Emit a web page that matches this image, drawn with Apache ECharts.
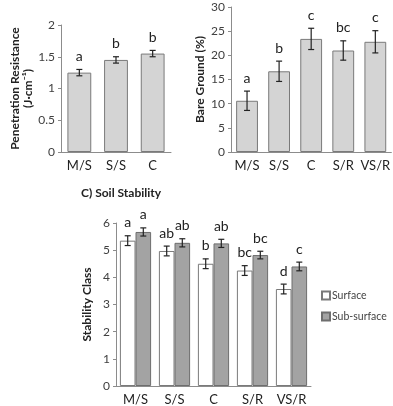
<!DOCTYPE html>
<html><head><meta charset="utf-8">
<script src="https://cdn.jsdelivr.net/npm/echarts@6/dist/echarts.min.js"></script>
<style>html,body{margin:0;padding:0;background:#fff}#c{width:393px;height:406px}</style>
</head><body><div id="c"></div>
<script>
// Panel A: Penetration resistance
const catsA = ['M/S','S/S','C'];
const valsA = [1.25, 1.45, 1.55];
const errA = [0.05, 0.05, 0.05];
const lettersA = ['a','b','b'];

// Panel B: Bare ground
const catsB = ['M/S','S/S','C','S/R','VS/R'];
const valsB = [10.6, 16.7, 23.4, 21.0, 22.8];
const errB = [2.0, 2.1, 2.2, 2.0, 2.3];
const lettersB = ['a','b','c','bc','c'];

// Panel C: Soil stability
const catsC = ['M/S','S/S','C','S/R','VS/R'];
const surface = [5.35, 4.97, 4.50, 4.25, 3.57];
const surfaceErr = [0.18, 0.18, 0.18, 0.18, 0.18];
const surfaceLetters = ['a','ab','b','bc','d'];
const subsurface = [5.67, 5.27, 5.25, 4.82, 4.40];
const subsurfaceErr = [0.15, 0.15, 0.15, 0.14, 0.16];
const subsurfaceLetters = ['a','ab','ab','bc','c'];

const FONT = 'Lato';
const axisColor = '#8c8c8c';
const textColor = '#404040';

function errSeries(xi, yi, vals, errs, letters, offsetSign, nameStr){
  return {
    type: 'custom', name: nameStr, xAxisIndex: xi, yAxisIndex: yi, z: 10,
    data: vals.map((v,i)=>[i, v, errs[i]]),
    renderItem: function(params, api){
      const i = api.value(0), v = api.value(1), e = api.value(2);
      const bw = api.size([1,0])[0];
      const off = offsetSign * bw * 0.8 / 4;
      const top = api.coord([i, v+e]);
      const bot = api.coord([i, v-e]);
      const x = top[0] + off;
      const cap = 3;
      const st = {stroke:'#222', lineWidth:1.2};
      return {type:'group', children:[
        {type:'line', shape:{x1:x,y1:top[1],x2:x,y2:bot[1]}, style:st},
        {type:'line', shape:{x1:x-cap,y1:top[1],x2:x+cap,y2:top[1]}, style:st},
        {type:'line', shape:{x1:x-cap,y1:bot[1],x2:x+cap,y2:bot[1]}, style:st},
        {type:'text', style:{text: letters[params.dataIndex], x:x, y:top[1]-6, align:'center', verticalAlign:'bottom', font:'14px "'+FONT+'"', fill:'#222'}}
      ]};
    }
  };
}

function yAx(gi, min, max, interval, name, gap){
  return {gridIndex: gi, type:'value', min:min, max:max, interval:interval,
    name:name, nameLocation:'middle', nameGap:gap,
    nameTextStyle:{fontFamily:FONT, fontWeight:'bold', fontSize:12, color:'#222', lineHeight:13},
    axisLine:{show:true, lineStyle:{color:axisColor}},
    axisTick:{show:true, length:3, lineStyle:{color:axisColor}},
    axisLabel:{fontFamily:FONT, fontSize:12, color:textColor, margin:6},
    splitLine:{show:false}};
}
function xAx(gi, cats){
  return {gridIndex: gi, type:'category', data:cats,
    axisLine:{lineStyle:{color:axisColor}}, axisTick:{show:false},
    axisLabel:{fontFamily:FONT, fontSize:13, color:'#222', margin:7, interval:0}};
}

const chart = echarts.init(document.getElementById('c'), null, {renderer:'canvas'});
chart.setOption({
  animation:false,
  title:{text:'C) Soil Stability', left:76, top:182, textStyle:{fontFamily:FONT, fontWeight:'bold', fontSize:12, color:'#222'}},
  legend:{data:['Surface','Sub-surface'], orient:'vertical', left:321, top:290, itemWidth:8, itemHeight:8, itemGap:10,
    icon:'rect', padding:0, textStyle:{fontFamily:FONT, fontSize:10.5, color:'#444', padding:[0,0,0,-3]}},
  grid:[
    {left:61, top:25, width:110, height:127},
    {left:231, top:7, width:162, height:145},
    {left:116, top:223, width:195, height:164}
  ],
  xAxis:[xAx(0,catsA), xAx(1,catsB), xAx(2,catsC)],
  yAxis:[
    yAx(0,0,2,0.5,'Penetration Resistance\n(J·cm\u207B\u00B9)',26),
    yAx(1,0,30,5,'Bare Ground (%)',24),
    yAx(2,0,6,1,'Stability Class',22)
  ],
  series:[
    {type:'bar', xAxisIndex:0, yAxisIndex:0, data:valsA, barWidth:'65%',
      itemStyle:{color:'#d4d4d4', borderColor:'#7a7a7a', borderWidth:1}},
    errSeries(0,0,valsA,errA,lettersA,0,'eA'),
    {type:'bar', xAxisIndex:1, yAxisIndex:1, data:valsB, barWidth:'68%',
      itemStyle:{color:'#d4d4d4', borderColor:'#7a7a7a', borderWidth:1}},
    errSeries(1,1,valsB,errB,lettersB,0,'eB'),
    {type:'bar', name:'Surface', xAxisIndex:2, yAxisIndex:2, data:surface, barGap:'0%', barCategoryGap:'20%',
      itemStyle:{color:'#ffffff', borderColor:'#7a7a7a', borderWidth:1}},
    {type:'bar', name:'Sub-surface', xAxisIndex:2, yAxisIndex:2, data:subsurface, barGap:'0%', barCategoryGap:'20%',
      itemStyle:{color:'#a3a3a3', borderColor:'#6e6e6e', borderWidth:1}},
    errSeries(2,2,surface,surfaceErr,surfaceLetters,-1,'eS'),
    errSeries(2,2,subsurface,subsurfaceErr,subsurfaceLetters,1,'eSS')
  ]
});
</script></body></html>
